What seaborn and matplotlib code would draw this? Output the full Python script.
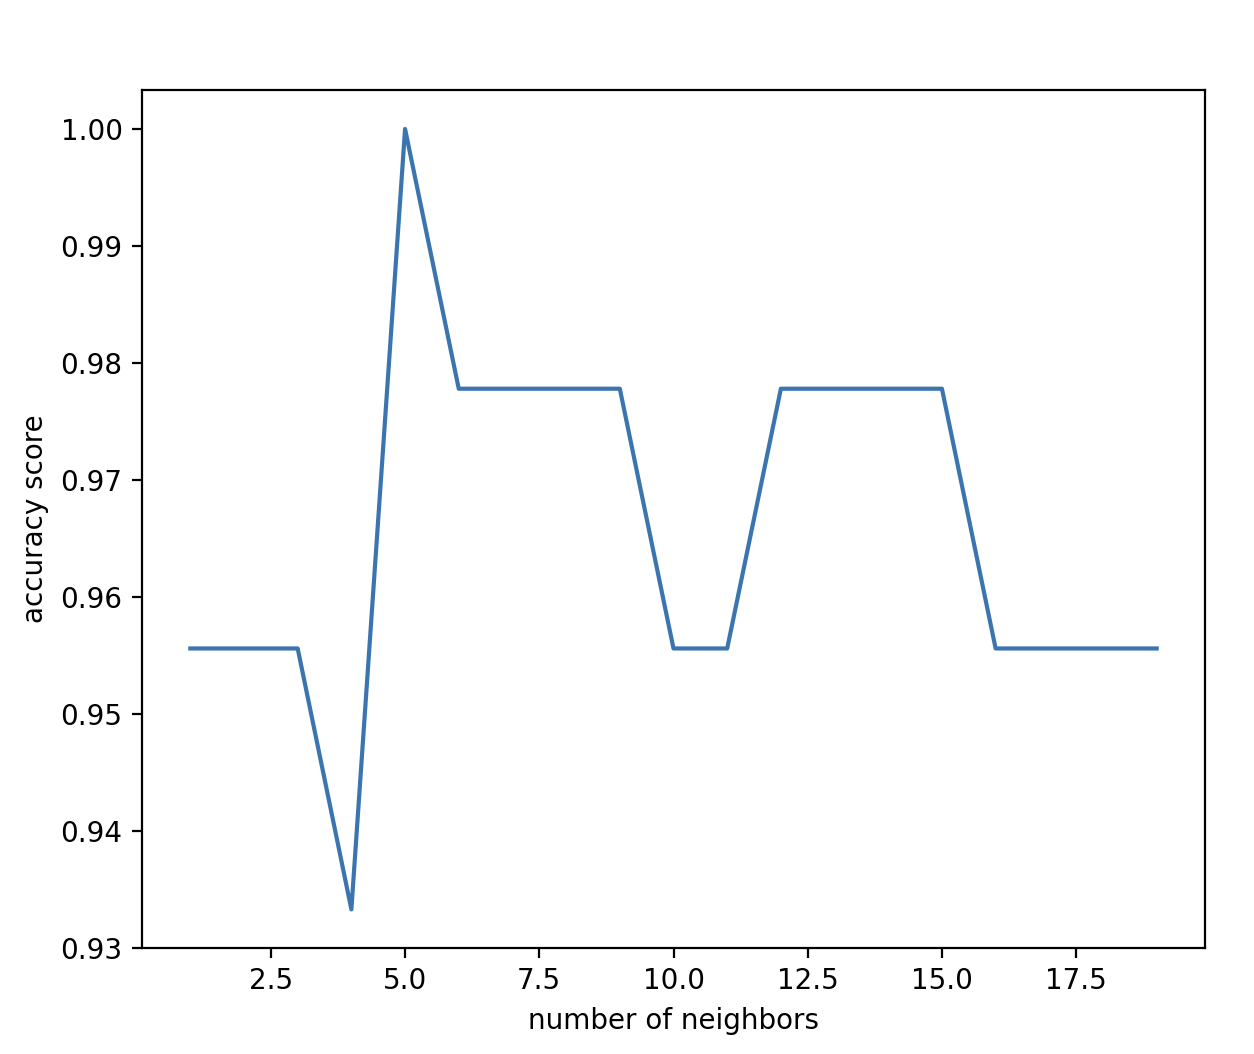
import pandas as pd
import seaborn as sns
import matplotlib.pyplot as plt

neighbors = list(range(1, 20))
scores = [0.9556, 0.9556, 0.9556, 0.9333, 1.0, 0.9778, 0.9778, 0.9778, 0.9778,
          0.9556, 0.9556, 0.9778, 0.9778, 0.9778, 0.9778, 0.9556, 0.9556, 0.9556, 0.9556]

df = pd.DataFrame({"k": neighbors, "score": scores})

fig = plt.figure(figsize=(6.27, 5.27), dpi=200)
ax = fig.add_axes([142 / 1254, 1 - 948 / 1054, (1205 - 142) / 1254, (948 - 90) / 1054])
sns.lineplot(x="k", y="score", data=df, ax=ax, color="#3a75b0", linewidth=1.5)
ax.set_xlabel("number of neighbors")
ax.set_ylabel("accuracy score")
ax.set_ylim(0.93, 1.00333)
fig.savefig("out.png", dpi=200)
